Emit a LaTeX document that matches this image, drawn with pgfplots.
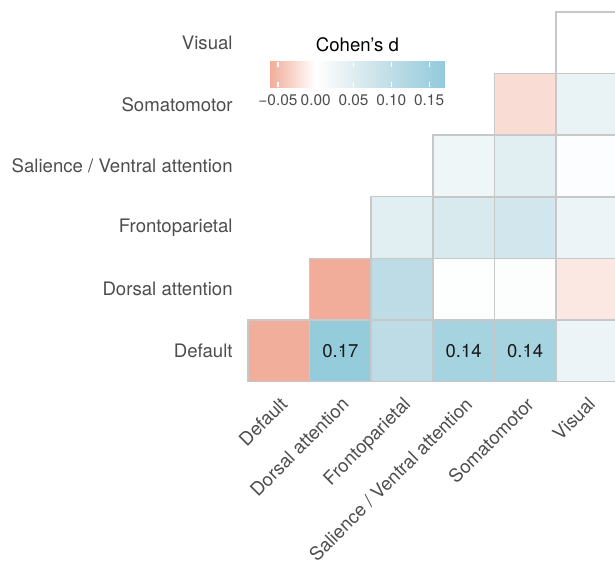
\documentclass[border=0pt]{standalone}
\usepackage{fontspec}
\setmainfont{TeX Gyre Heros}
\usepackage{pgfplots}
\pgfplotsset{compat=1.18}
\definecolor{labc}{HTML}{4D4D4D}
\definecolor{gridc}{HTML}{C8C8C8}
\begin{document}
\begin{tikzpicture}
\path[use as bounding box] (-124pt,-90.25pt) rectangle (183.5pt,190.75pt);
\begin{axis}[
 at={(0,0)}, anchor=south west,
 scale only axis, width=184.8pt, height=184.75pt,
 xmin=-0.5, xmax=5.5, ymin=-0.5, ymax=5.5,
 axis line style={draw=none},
 major tick length=0pt,
 xtick={0,...,5}, ytick={0,...,5},
 xticklabels={Default, Dorsal attention, Frontoparietal, Salience / Ventral attention, Somatomotor, Visual},
 yticklabels={Default, Dorsal attention, Frontoparietal, Salience / Ventral attention, Somatomotor, Visual},
 ticklabel style={font=\fontsize{9.3}{11}\selectfont, text=labc, inner sep=0pt},
 xticklabel style={xshift=0pt, yshift=-7pt, rotate=45, anchor=north east},
 yticklabel style={anchor=east, xshift=-7.5pt},
 colormap={cohen}{rgb255(0pt)=(241,173,154) rgb255(261pt)=(255,255,255) rgb255(477pt)=(223,237,241) rgb255(693pt)=(191,221,230) rgb255(1000pt)=(146,203,220)},
 point meta min=-0.0605, point meta max=0.171,
 colorbar horizontal,
 colorbar style={
   at={(0.0595,0.8647)}, anchor=north west,
   scale only axis, width=87.5pt, height=12.75pt,
   axis line style={draw=none},
   xtick={-0.05,0,0.05,0.1,0.15},
   xticklabels={−0.05,0.00,0.05,0.10,0.15},
   xtick pos=both, xticklabel pos=lower,
   tick align=inside,
   major tick length=2.5pt,
   every tick/.style={white, line width=0.6pt},
   xticklabel style={font=\fontsize{7.7}{9}\selectfont, text=labc, inner sep=0pt, yshift=-3.5pt, rotate=0, anchor=north},
   every axis title shift=0pt,
   title={Cohen's d},
   title style={font=\fontsize{9.3}{11}\selectfont, at={(0.5,1)}, anchor=base, yshift=5pt, inner sep=0pt},
 },
]
\addplot[scatter, only marks, mark=square*, mark size=15.4pt, line width=0.75pt,
  point meta=explicit,
  scatter/use mapped color={draw=gridc, fill=mapped color}]
  table[meta=d] {
x y d
0 0 -0.060
1 0 0.168
2 0 0.103
3 0 0.140
4 0 0.140
5 0 0.030
1 1 -0.0605
2 1 0.102
3 1 0.003
4 1 0.004
5 1 -0.017
2 2 0.045
3 2 0.060
4 2 0.070
5 2 0.030
3 3 0.026
4 3 0.045
5 3 0.005
4 4 -0.025
5 4 0.035
5 5 0.000
};
\addplot[only marks, mark=*, mark size=0.01pt, mark options={draw=none, fill=none},
  nodes near coords, point meta=explicit symbolic,
  nodes near coords style={anchor=center, font=\fontsize{9.25}{11}\selectfont, text=black!90}]
  table[meta=lab] {
x y lab
1 0 0.17
3 0 0.14
4 0 0.14
};
\end{axis}
\end{tikzpicture}
\end{document}
